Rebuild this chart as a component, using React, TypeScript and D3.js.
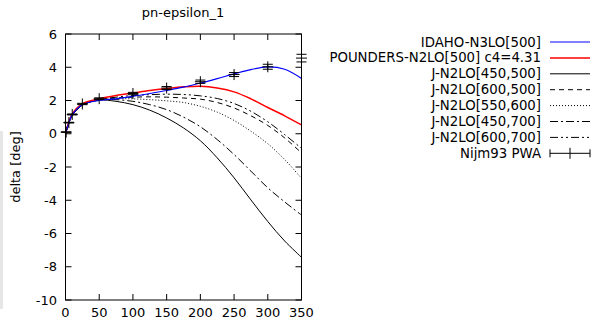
import React from "react";
import * as d3 from "d3";

const energies = [0, 5, 10, 25, 50, 75, 100, 125, 150, 175, 200, 225, 250, 275, 300, 325, 350];
const idaho = [0, 0.65, 1.15, 1.75, 2.0, 2.1, 2.25, 2.42, 2.6, 2.8, 3.05, 3.32, 3.6, 3.86, 4.02, 3.88, 3.33];
const pounders = [0, 0.7, 1.2, 1.8, 2.1, 2.3, 2.45, 2.6, 2.72, 2.82, 2.86, 2.75, 2.52, 2.1, 1.58, 1.08, 0.53];
const j450_500 = [0, 0.62, 1.1, 1.72, 2.02, 1.95, 1.75, 1.42, 0.95, 0.35, -0.42, -1.45, -2.65, -3.98, -5.28, -6.45, -7.43];
const j600_500 = [0, 0.64, 1.12, 1.74, 2.05, 2.15, 2.2, 2.22, 2.2, 2.15, 2.08, 1.88, 1.55, 1.08, 0.5, -0.25, -1.15];
const j550_600 = [0, 0.63, 1.11, 1.73, 2.03, 2.1, 2.1, 2.05, 1.98, 1.88, 1.65, 1.3, 0.8, 0.15, -0.6, -1.55, -2.68];
const j450_700 = [0, 0.63, 1.11, 1.73, 2.04, 2.05, 1.95, 1.75, 1.45, 1.0, 0.42, -0.35, -1.25, -2.25, -3.25, -4.1, -4.89];
const j600_700 = [0, 0.64, 1.12, 1.74, 2.06, 2.2, 2.3, 2.35, 2.38, 2.36, 2.28, 2.12, 1.82, 1.35, 0.72, -0.05, -0.88];

const nijmE = [1, 5, 10, 25, 50, 100, 150, 200, 250, 300, 350];
const nijmV = [0.1, 0.67, 1.16, 1.79, 2.11, 2.42, 2.75, 3.13, 3.56, 4.03, 4.55];
const nijmErr = [0.01, 0.02, 0.03, 0.04, 0.05, 0.07, 0.09, 0.1, 0.12, 0.15, 0.23];

const xTicks = [0, 50, 100, 150, 200, 250, 300, 350];
const yTicks = [-10, -8, -6, -4, -2, 0, 2, 4, 6];

const seriesNames = [
  "IDAHO-N3LO[500]",
  "POUNDERS-N2LO[500] c4=4.31",
  "J-N2LO[450,500]",
  "J-N2LO[600,500]",
  "J-N2LO[550,600]",
  "J-N2LO[450,700]",
  "J-N2LO[600,700]",
];
const dataName = "Nijm93 PWA";

const FONT = "'DejaVu Sans', sans-serif";

export default function App() {
  const x = d3.scaleLinear().domain([0, 350]).range([65.5, 301.5]);
  const y = d3.scaleLinear().domain([-10, 6]).range([300, 34]);

  const line = d3
    .line<number>()
    .x((_, i) => x(energies[i]))
    .y((d) => y(d))
    .curve(d3.curveCatmullRom.alpha(0.5));

  const series = [
    { name: seriesNames[0], vals: idaho, color: "#0000ff", width: 1.2, dash: "" },
    { name: seriesNames[1], vals: pounders, color: "#ff0000", width: 1.5, dash: "" },
    { name: seriesNames[2], vals: j450_500, color: "#000", width: 1, dash: "" },
    { name: seriesNames[3], vals: j600_500, color: "#000", width: 1, dash: "5,4" },
    { name: seriesNames[4], vals: j550_600, color: "#000", width: 1, dash: "1,2" },
    { name: seriesNames[5], vals: j450_700, color: "#000", width: 1, dash: "8,3,2,3" },
    { name: seriesNames[6], vals: j600_700, color: "#000", width: 1, dash: "8,3,2,3,2,3" },
  ];

  const [x0, x1] = x.range();
  const [yb, yt] = y.range();
  const tickLen = 6;
  const legendY0 = 42;
  const legendDy = 15.9;

  return (
    <svg width={592} height={321} style={{ position: "absolute", left: 0, top: 0, background: "#fff" }}>
      <rect x={0} y={0} width={592} height={321} fill="#fff" />
      <rect x={0} y={131} width={3} height={178} fill="#e6e6e6" />
      <text x={183} y={17} textAnchor="middle" fontFamily={FONT} fontSize={13}>
        pn-epsilon_1
      </text>
      <text
        transform={`translate(20,${(yb + yt) / 2}) rotate(-90)`}
        textAnchor="middle"
        fontFamily={FONT}
        fontSize={13}
      >
        delta [deg]
      </text>

      {/* ticks */}
      {yTicks.map((t) => (
        <g key={"y" + t}>
          <line x1={x0} x2={x0 + tickLen} y1={y(t)} y2={y(t)} stroke="#000" />
          <line x1={x1} x2={x1 - tickLen} y1={y(t)} y2={y(t)} stroke="#000" />
          <text x={57} y={y(t) + 4.5} textAnchor="end" fontFamily={FONT} fontSize={13}>
            {t}
          </text>
        </g>
      ))}
      {xTicks.map((t) => (
        <g key={"x" + t}>
          <line x1={x(t)} x2={x(t)} y1={yb} y2={yb - tickLen} stroke="#000" />
          <line x1={x(t)} x2={x(t)} y1={yt} y2={yt + tickLen} stroke="#000" />
          <text x={x(t)} y={317} textAnchor="middle" fontFamily={FONT} fontSize={13}>
            {t}
          </text>
        </g>
      ))}

      {/* curves */}
      {series
        .slice()
        .reverse()
        .map((s) => (
          <path
            key={s.name}
            d={line(s.vals) || ""}
            fill="none"
            stroke={s.color}
            strokeWidth={s.width}
            strokeDasharray={s.dash || undefined}
          />
        ))}

      {/* data points with error bars */}
      {nijmE.map((e, i) => {
        const cx = x(e);
        const cy = y(nijmV[i]);
        const ylo = y(nijmV[i] - nijmErr[i]);
        const yhi = y(nijmV[i] + nijmErr[i]);
        return (
          <g key={"p" + e} stroke="#000" strokeWidth={1}>
            <line x1={cx} x2={cx} y1={ylo} y2={yhi} />
            <line x1={cx - 5} x2={cx + 5} y1={ylo} y2={ylo} />
            <line x1={cx - 5} x2={cx + 5} y1={yhi} y2={yhi} />
            <line x1={cx - 5.5} x2={cx + 5.5} y1={cy} y2={cy} />
            <line x1={cx} x2={cx} y1={cy - 5.5} y2={cy + 5.5} />
          </g>
        );
      })}

      {/* frame */}
      <rect x={x0} y={yt} width={x1 - x0} height={yb - yt} fill="none" stroke="#000" strokeWidth={1} />

      {/* legend */}
      {series.map((s, i) => {
        const ly = legendY0 + i * legendDy;
        return (
          <g key={"l" + s.name}>
            <text x={541} y={ly + 4.5} textAnchor="end" fontFamily={FONT} fontSize={13.3}>
              {s.name}
            </text>
            <line
              x1={550}
              x2={590}
              y1={ly}
              y2={ly}
              stroke={s.color}
              strokeWidth={s.width}
              strokeDasharray={s.dash || undefined}
            />
          </g>
        );
      })}
      {(() => {
        const ly = legendY0 + 7 * legendDy;
        return (
          <g>
            <text x={541} y={ly + 4.5} textAnchor="end" fontFamily={FONT} fontSize={13.3}>
              {dataName}
            </text>
            <g stroke="#000">
              <line x1={550} x2={590} y1={ly} y2={ly} />
              <line x1={550} x2={550} y1={ly - 4} y2={ly + 4} />
              <line x1={590} x2={590} y1={ly - 4} y2={ly + 4} />
              <line x1={570} x2={570} y1={ly - 5.5} y2={ly + 5.5} />
            </g>
          </g>
        );
      })()}
    </svg>
  );
}
